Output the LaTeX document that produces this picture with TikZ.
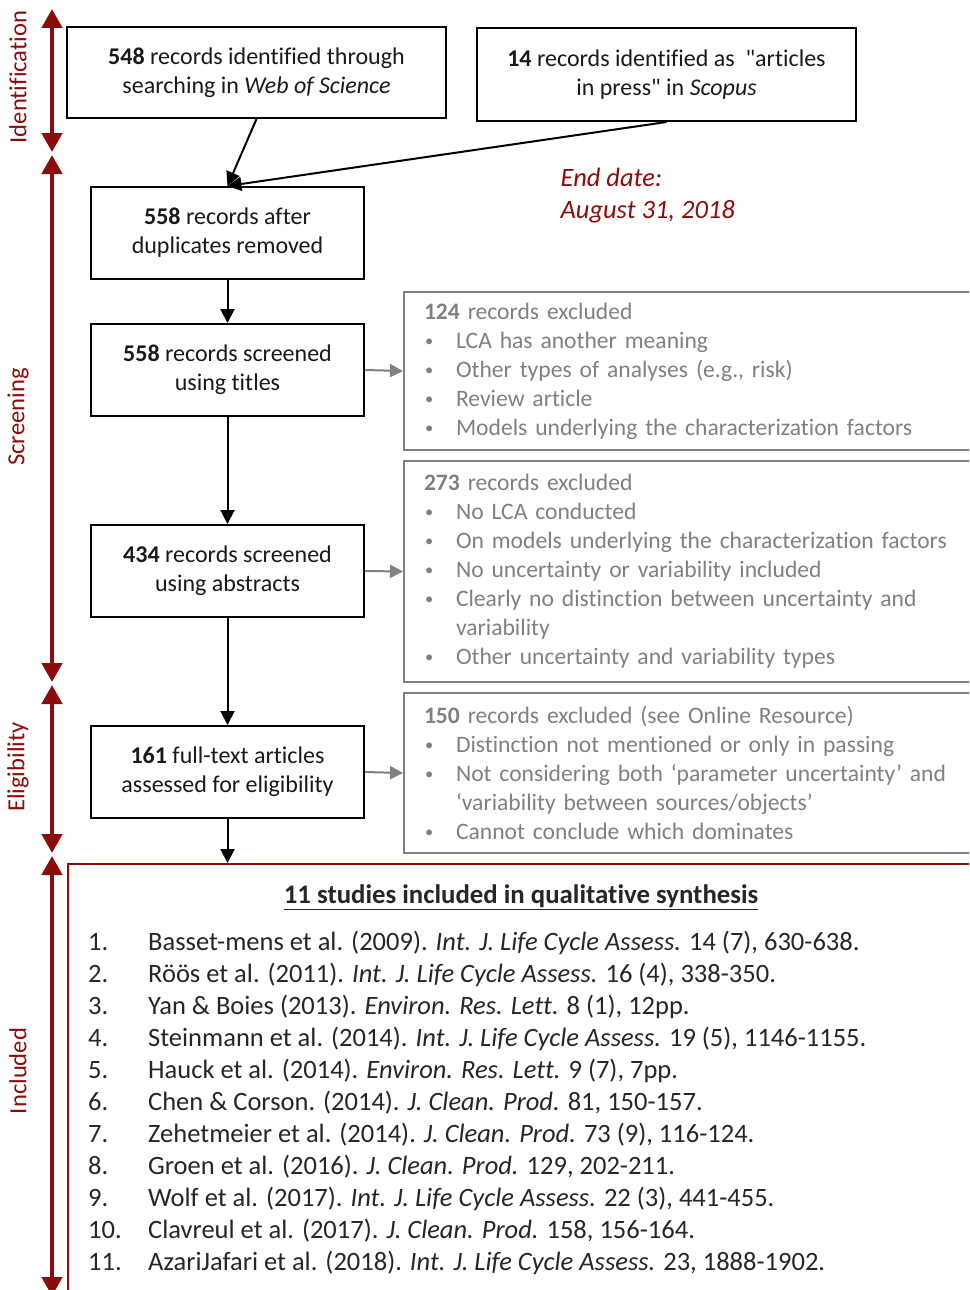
\documentclass[tikz,border=0pt]{standalone}
\usepackage{fontspec}
\setmainfont{Carlito}[Ligatures={TeX,NoCommon}]
\newfontfamily\plainquote{Carlito}
\usepackage{xcolor}
\usetikzlibrary{arrows.meta}
\definecolor{phasered}{RGB}{140,12,12}
\definecolor{exgrey}{RGB}{128,128,128}
\newcommand{\xitem}[1]{\makebox[32pt][l]{\hspace{1pt}\raisebox{0.08em}{\scalebox{0.7}{\textbullet}}}#1}
\newcommand{\xcont}[1]{\makebox[32pt][l]{}#1}
\tikzset{
    recbox/.style={draw=black, line width=2pt, minimum width=273pt, minimum height=92pt, align=center, text=black!90, font=\fontsize{24}{29}\selectfont},
    exbox/.style={draw=exgrey, line width=2pt, anchor=north west, text width=560pt, inner xsep=20pt, inner ysep=0pt, align=left, text=exgrey, font=\fontsize{23.6}{29}\selectfont},
    flow/.style={line width=2pt, -{Triangle[width=14pt,length=14pt]}},
    exflow/.style={draw=exgrey, line width=2pt, -{Triangle[width=13pt,length=13pt]}},
    phase/.style={draw=phasered, line width=4.5pt, {Triangle[width=20pt,length=19pt]}-{Triangle[width=20pt,length=19pt]}},
    phaselabel/.style={rotate=90, text=phasered, font=\fontsize{24.6}{28}\selectfont},
    refline/.style={anchor=base west, inner sep=0pt, text=black!85, font=\fontsize{26.5}{32}\selectfont}
}
\begin{document}
\begin{tikzpicture}[x=1pt, y=-1pt]
        \useasboundingbox (0,0) rectangle (969,1290);
        \clip (0,0) rectangle (969,1290);
        % phases
        \coordinate (idtop) at (52,9);
        \coordinate (idbot) at (52,152);
        \coordinate (scrtop) at (52,155);
        \coordinate (scrbot) at (52,682);
        \coordinate (eltop) at (52,685);
        \coordinate (elbot) at (52,853);
        \coordinate (intop) at (52,856);
        \coordinate (inbot) at (52,1296);
        \draw[phase] (idtop) -- (idbot);
        \draw[phase] (scrtop) -- (scrbot);
        \draw[phase] (eltop) -- (elbot);
        \draw[phase] (intop) -- (inbot);
        \node[phaselabel] (idlabel) at (18,77) {Identification};
        \node[phaselabel] (scrlabel) at (18,417) {Screening};
        \node[phaselabel] (ellabel) at (18,767) {Eligibility};
        \node[phaselabel] (inlabel) at (18,1071) {Included};
        % records
        \node[recbox, minimum width=379pt, minimum height=91pt] (wos) at (256.5,72.5) {\textbf{548} records identified through\\searching in \textit{Web of Science}};
        \node[recbox, minimum width=379pt, minimum height=93pt] (scopus) at (666.5,74.5) {\textbf{14} records identified as\ \ {\plainquote"}articles\\in press{\plainquote"} in \textit{Scopus}};
        \node[recbox] (dup) at (227.5,233) {\textbf{558} records after\\duplicates removed};
        \node[recbox] (titles) at (227.5,370) {\textbf{558} records screened\\using titles};
        \node[recbox] (abstr) at (227.5,571) {\textbf{434} records screened\\using abstracts};
        \node[recbox] (full) at (227.5,772) {\textbf{161} full-text articles\\assessed for eligibility};
        \node[anchor=west, align=left, text=phasered, font=\fontsize{26.5}{32}\selectfont\itshape] (enddate) at (557,196) {End date:\\August 31, 2018};
        % exclusions
        \node[exbox, minimum height=158pt] (ex1) at (403,291) {\textbf{124} records excluded\\
            \xitem{LCA has another meaning}\\
            \xitem{Other types of analyses (e.g., risk)}\\
            \xitem{Review article}\\
            \xitem{Models underlying the characterization factors}};
        \node[exbox, minimum height=221pt] (ex2) at (403,460) {\textbf{273} records excluded\\
            \xitem{No LCA conducted}\\
            \xitem{On models underlying the characterization factors}\\
            \xitem{No uncertainty or variability included}\\
            \xitem{Clearly no distinction between uncertainty and}\\
            \xcont{variability}\\
            \xitem{Other uncertainty and variability types}};
        \node[exbox, minimum height=160pt] (ex3) at (403,692) {\textbf{150} records excluded (see Online Resource)\\
            \xitem{Distinction not mentioned or only in passing}\\
            \xitem{Not considering both `parameter uncertainty' and}\\
            \xcont{`variability between sources/objects'}\\
            \xitem{Cannot conclude which dominates}};
        % included
        \node[draw=phasered, line width=2pt, anchor=north west, minimum width=960pt, minimum height=480pt] (incl) at (67,863) {};
        \node[text=black!85, font=\fontsize{26.8}{32}\selectfont\bfseries] (inclhead) at (521,897) {\underline{11 studies included in qualitative synthesis}};
        \foreach \txt [count=\k] in {
            {Basset-mens et al. (2009). \textit{Int. J. Life Cycle Assess.} 14 (7), 630-638.},
            {Röös et al. (2011). \textit{Int. J. Life Cycle Assess.} 16 (4), 338-350.},
            {Yan \& Boies (2013). \textit{Environ. Res. Lett.} 8 (1), 12pp.},
            {Steinmann et al. (2014). \textit{Int. J. Life Cycle Assess.} 19 (5), 1146-1155.},
            {Hauck et al. (2014). \textit{Environ. Res. Lett.} 9 (7), 7pp.},
            {Chen \& Corson. (2014). \textit{J. Clean. Prod.} 81, 150-157.},
            {Zehetmeier et al. (2014). \textit{J. Clean. Prod.} 73 (9), 116-124.},
            {Groen et al. (2016). \textit{J. Clean. Prod.} 129, 202-211.},
            {Wolf et al. (2017). \textit{Int. J. Life Cycle Assess.} 22 (3), 441-455.},
            {Clavreul et al. (2017). \textit{J. Clean. Prod.} 158, 156-164.},
            {AzariJafari et al. (2018). \textit{Int. J. Life Cycle Assess.} 23, 1888-1902.}}{
            \node[refline] (num\k) at (88,918+32*\k) {\k.};
            \node[refline] (ref\k) at (148,918+32*\k) {\txt};
        }
        % connectors
        \draw[flow] (wos.south) -- (dup.north);
        \draw[flow] (scopus.south) -- (dup.north);
        \draw[flow] (dup.south) -- (titles.north);
        \draw[flow] (titles.south) -- (abstr.north);
        \draw[flow] (abstr.south) -- (full.north);
        \draw[flow] (full.south) -- (full.south |- incl.north);
        \draw[exflow] (titles.east) -- (ex1.west);
        \draw[exflow] (abstr.east) -- (ex2.west);
        \draw[exflow] (full.east) -- (ex3.west);
    \end{tikzpicture}
\end{document}
